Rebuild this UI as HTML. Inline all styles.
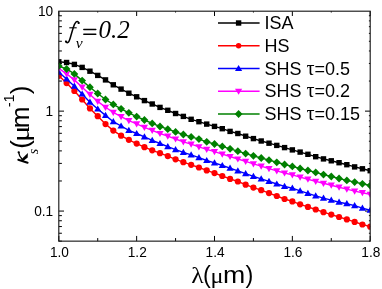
<!DOCTYPE html>
<html><head><meta charset="utf-8"><style>
html,body{margin:0;padding:0;background:#fff;}
svg{display:block;font-family:"Liberation Sans",sans-serif;will-change:transform;}
</style></head><body>
<svg width="382" height="289" viewBox="0 0 382 289">
<defs><clipPath id="clip"><rect x="58.8" y="11.2" width="311.4" height="229.95000000000002"/></clipPath></defs>
<rect width="382" height="289" fill="#fff"/>
<line x1="218" y1="23.00" x2="259.6" y2="23.00" stroke="#000000" stroke-width="1.3"/>
<rect x="235.90" y="20.30" width="5.4" height="5.4" fill="#000000"/>
<text x="264.4" y="29.20" font-size="18">ISA</text>
<line x1="218" y1="45.75" x2="259.6" y2="45.75" stroke="#ff0000" stroke-width="1.3"/>
<circle cx="238.60" cy="45.75" r="2.7" fill="#ff0000"/>
<text x="264.4" y="51.95" font-size="18">HS</text>
<line x1="218" y1="68.50" x2="259.6" y2="68.50" stroke="#0000ff" stroke-width="1.3"/>
<path d="M238.60,64.90 L242.20,71.10 L235.00,71.10Z" fill="#0000ff"/>
<text x="264.4" y="74.70" font-size="18">SHS <tspan font-family="Liberation Serif" font-size="20">τ</tspan>=0.5</text>
<line x1="218" y1="91.25" x2="259.6" y2="91.25" stroke="#ff00ff" stroke-width="1.3"/>
<path d="M238.60,94.85 L242.20,88.65 L235.00,88.65Z" fill="#ff00ff"/>
<text x="264.4" y="97.45" font-size="18">SHS <tspan font-family="Liberation Serif" font-size="20">τ</tspan>=0.2</text>
<line x1="218" y1="114.00" x2="259.6" y2="114.00" stroke="#008000" stroke-width="1.3"/>
<path d="M238.60,110.10 L242.50,114.00 L238.60,117.90 L234.70,114.00Z" fill="#008000"/>
<text x="264.4" y="120.20" font-size="18">SHS <tspan font-family="Liberation Serif" font-size="20">τ</tspan>=0.15</text>
<line x1="58.80" y1="241.15" x2="58.80" y2="235.95000000000002" stroke="#000" stroke-width="1"/>
<line x1="58.80" y1="11.2" x2="58.80" y2="16.0" stroke="#000" stroke-width="1"/>
<text transform="translate(59.40,257.4) scale(1,1.1)" font-size="13.7" text-anchor="middle">1.0</text>
<line x1="97.73" y1="241.15" x2="97.73" y2="238.05" stroke="#000" stroke-width="1"/>
<line x1="97.73" y1="11.2" x2="97.73" y2="12.5" stroke="#000" stroke-width="1"/>
<line x1="136.65" y1="241.15" x2="136.65" y2="235.95000000000002" stroke="#000" stroke-width="1"/>
<line x1="136.65" y1="11.2" x2="136.65" y2="16.0" stroke="#000" stroke-width="1"/>
<text transform="translate(137.25,257.4) scale(1,1.1)" font-size="13.7" text-anchor="middle">1.2</text>
<line x1="175.57" y1="241.15" x2="175.57" y2="238.05" stroke="#000" stroke-width="1"/>
<line x1="175.57" y1="11.2" x2="175.57" y2="12.5" stroke="#000" stroke-width="1"/>
<line x1="214.50" y1="241.15" x2="214.50" y2="235.95000000000002" stroke="#000" stroke-width="1"/>
<line x1="214.50" y1="11.2" x2="214.50" y2="16.0" stroke="#000" stroke-width="1"/>
<text transform="translate(215.10,257.4) scale(1,1.1)" font-size="13.7" text-anchor="middle">1.4</text>
<line x1="253.42" y1="241.15" x2="253.42" y2="238.05" stroke="#000" stroke-width="1"/>
<line x1="253.42" y1="11.2" x2="253.42" y2="12.5" stroke="#000" stroke-width="1"/>
<line x1="292.35" y1="241.15" x2="292.35" y2="235.95000000000002" stroke="#000" stroke-width="1"/>
<line x1="292.35" y1="11.2" x2="292.35" y2="16.0" stroke="#000" stroke-width="1"/>
<text transform="translate(292.95,257.4) scale(1,1.1)" font-size="13.7" text-anchor="middle">1.6</text>
<line x1="331.28" y1="241.15" x2="331.28" y2="238.05" stroke="#000" stroke-width="1"/>
<line x1="331.28" y1="11.2" x2="331.28" y2="12.5" stroke="#000" stroke-width="1"/>
<line x1="370.20" y1="241.15" x2="370.20" y2="235.95000000000002" stroke="#000" stroke-width="1"/>
<line x1="370.20" y1="11.2" x2="370.20" y2="16.0" stroke="#000" stroke-width="1"/>
<text transform="translate(370.80,257.4) scale(1,1.1)" font-size="13.7" text-anchor="middle">1.8</text>
<line x1="58.8" y1="241.15" x2="61.9" y2="241.15" stroke="#000" stroke-width="1"/>
<line x1="370.2" y1="241.15" x2="368.9" y2="241.15" stroke="#000" stroke-width="1"/>
<line x1="58.8" y1="233.24" x2="61.9" y2="233.24" stroke="#000" stroke-width="1"/>
<line x1="370.2" y1="233.24" x2="368.9" y2="233.24" stroke="#000" stroke-width="1"/>
<line x1="58.8" y1="226.55" x2="61.9" y2="226.55" stroke="#000" stroke-width="1"/>
<line x1="370.2" y1="226.55" x2="368.9" y2="226.55" stroke="#000" stroke-width="1"/>
<line x1="58.8" y1="220.75" x2="61.9" y2="220.75" stroke="#000" stroke-width="1"/>
<line x1="370.2" y1="220.75" x2="368.9" y2="220.75" stroke="#000" stroke-width="1"/>
<line x1="58.8" y1="215.64" x2="61.9" y2="215.64" stroke="#000" stroke-width="1"/>
<line x1="370.2" y1="215.64" x2="368.9" y2="215.64" stroke="#000" stroke-width="1"/>
<line x1="58.8" y1="211.07" x2="64.0" y2="211.07" stroke="#000" stroke-width="1"/>
<line x1="370.2" y1="211.07" x2="365.0" y2="211.07" stroke="#000" stroke-width="1"/>
<line x1="58.8" y1="180.98" x2="61.9" y2="180.98" stroke="#000" stroke-width="1"/>
<line x1="370.2" y1="180.98" x2="368.9" y2="180.98" stroke="#000" stroke-width="1"/>
<line x1="58.8" y1="163.39" x2="61.9" y2="163.39" stroke="#000" stroke-width="1"/>
<line x1="370.2" y1="163.39" x2="368.9" y2="163.39" stroke="#000" stroke-width="1"/>
<line x1="58.8" y1="150.90" x2="61.9" y2="150.90" stroke="#000" stroke-width="1"/>
<line x1="370.2" y1="150.90" x2="368.9" y2="150.90" stroke="#000" stroke-width="1"/>
<line x1="58.8" y1="141.22" x2="61.9" y2="141.22" stroke="#000" stroke-width="1"/>
<line x1="370.2" y1="141.22" x2="368.9" y2="141.22" stroke="#000" stroke-width="1"/>
<line x1="58.8" y1="133.30" x2="61.9" y2="133.30" stroke="#000" stroke-width="1"/>
<line x1="370.2" y1="133.30" x2="368.9" y2="133.30" stroke="#000" stroke-width="1"/>
<line x1="58.8" y1="126.61" x2="61.9" y2="126.61" stroke="#000" stroke-width="1"/>
<line x1="370.2" y1="126.61" x2="368.9" y2="126.61" stroke="#000" stroke-width="1"/>
<line x1="58.8" y1="120.82" x2="61.9" y2="120.82" stroke="#000" stroke-width="1"/>
<line x1="370.2" y1="120.82" x2="368.9" y2="120.82" stroke="#000" stroke-width="1"/>
<line x1="58.8" y1="115.71" x2="61.9" y2="115.71" stroke="#000" stroke-width="1"/>
<line x1="370.2" y1="115.71" x2="368.9" y2="115.71" stroke="#000" stroke-width="1"/>
<line x1="58.8" y1="111.13" x2="64.0" y2="111.13" stroke="#000" stroke-width="1"/>
<line x1="370.2" y1="111.13" x2="365.0" y2="111.13" stroke="#000" stroke-width="1"/>
<line x1="58.8" y1="81.05" x2="61.9" y2="81.05" stroke="#000" stroke-width="1"/>
<line x1="370.2" y1="81.05" x2="368.9" y2="81.05" stroke="#000" stroke-width="1"/>
<line x1="58.8" y1="63.45" x2="61.9" y2="63.45" stroke="#000" stroke-width="1"/>
<line x1="370.2" y1="63.45" x2="368.9" y2="63.45" stroke="#000" stroke-width="1"/>
<line x1="58.8" y1="50.97" x2="61.9" y2="50.97" stroke="#000" stroke-width="1"/>
<line x1="370.2" y1="50.97" x2="368.9" y2="50.97" stroke="#000" stroke-width="1"/>
<line x1="58.8" y1="41.28" x2="61.9" y2="41.28" stroke="#000" stroke-width="1"/>
<line x1="370.2" y1="41.28" x2="368.9" y2="41.28" stroke="#000" stroke-width="1"/>
<line x1="58.8" y1="33.37" x2="61.9" y2="33.37" stroke="#000" stroke-width="1"/>
<line x1="370.2" y1="33.37" x2="368.9" y2="33.37" stroke="#000" stroke-width="1"/>
<line x1="58.8" y1="26.68" x2="61.9" y2="26.68" stroke="#000" stroke-width="1"/>
<line x1="370.2" y1="26.68" x2="368.9" y2="26.68" stroke="#000" stroke-width="1"/>
<line x1="58.8" y1="20.88" x2="61.9" y2="20.88" stroke="#000" stroke-width="1"/>
<line x1="370.2" y1="20.88" x2="368.9" y2="20.88" stroke="#000" stroke-width="1"/>
<line x1="58.8" y1="15.77" x2="61.9" y2="15.77" stroke="#000" stroke-width="1"/>
<line x1="370.2" y1="15.77" x2="368.9" y2="15.77" stroke="#000" stroke-width="1"/>
<text transform="translate(53.2,16.00) scale(1,1.1)" font-size="13.7" text-anchor="end">10</text>
<text transform="translate(53.2,115.93) scale(1,1.1)" font-size="13.7" text-anchor="end">1</text>
<text transform="translate(53.2,215.87) scale(1,1.1)" font-size="13.7" text-anchor="end">0.1</text>
<g clip-path="url(#clip)">
<polyline points="58.80,61.80 66.59,62.50 74.37,64.40 82.16,67.40 89.94,71.20 97.73,75.40 105.51,79.90 113.30,84.80 121.08,89.10 128.86,93.20 136.65,96.80 144.43,100.60 152.22,104.00 160.00,107.40 167.79,110.30 175.57,113.50 183.36,116.40 191.15,119.30 198.93,121.70 206.71,124.10 214.50,126.40 222.28,128.70 230.07,131.40 237.85,133.50 245.64,136.20 253.42,138.60 261.21,141.00 269.00,143.20 276.78,145.40 284.56,147.60 292.35,149.90 300.13,152.10 307.92,154.30 315.71,156.70 323.49,158.90 331.28,160.80 339.06,162.70 346.84,164.70 354.63,166.90 362.41,168.80 370.20,170.70" fill="none" stroke="#000000" stroke-width="1.4"/>
<rect x="56.10" y="59.10" width="5.4" height="5.4" fill="#000000"/>
<rect x="63.89" y="59.80" width="5.4" height="5.4" fill="#000000"/>
<rect x="71.67" y="61.70" width="5.4" height="5.4" fill="#000000"/>
<rect x="79.46" y="64.70" width="5.4" height="5.4" fill="#000000"/>
<rect x="87.24" y="68.50" width="5.4" height="5.4" fill="#000000"/>
<rect x="95.03" y="72.70" width="5.4" height="5.4" fill="#000000"/>
<rect x="102.81" y="77.20" width="5.4" height="5.4" fill="#000000"/>
<rect x="110.60" y="82.10" width="5.4" height="5.4" fill="#000000"/>
<rect x="118.38" y="86.40" width="5.4" height="5.4" fill="#000000"/>
<rect x="126.16" y="90.50" width="5.4" height="5.4" fill="#000000"/>
<rect x="133.95" y="94.10" width="5.4" height="5.4" fill="#000000"/>
<rect x="141.73" y="97.90" width="5.4" height="5.4" fill="#000000"/>
<rect x="149.52" y="101.30" width="5.4" height="5.4" fill="#000000"/>
<rect x="157.31" y="104.70" width="5.4" height="5.4" fill="#000000"/>
<rect x="165.09" y="107.60" width="5.4" height="5.4" fill="#000000"/>
<rect x="172.88" y="110.80" width="5.4" height="5.4" fill="#000000"/>
<rect x="180.66" y="113.70" width="5.4" height="5.4" fill="#000000"/>
<rect x="188.45" y="116.60" width="5.4" height="5.4" fill="#000000"/>
<rect x="196.23" y="119.00" width="5.4" height="5.4" fill="#000000"/>
<rect x="204.01" y="121.40" width="5.4" height="5.4" fill="#000000"/>
<rect x="211.80" y="123.70" width="5.4" height="5.4" fill="#000000"/>
<rect x="219.58" y="126.00" width="5.4" height="5.4" fill="#000000"/>
<rect x="227.37" y="128.70" width="5.4" height="5.4" fill="#000000"/>
<rect x="235.15" y="130.80" width="5.4" height="5.4" fill="#000000"/>
<rect x="242.94" y="133.50" width="5.4" height="5.4" fill="#000000"/>
<rect x="250.72" y="135.90" width="5.4" height="5.4" fill="#000000"/>
<rect x="258.51" y="138.30" width="5.4" height="5.4" fill="#000000"/>
<rect x="266.30" y="140.50" width="5.4" height="5.4" fill="#000000"/>
<rect x="274.08" y="142.70" width="5.4" height="5.4" fill="#000000"/>
<rect x="281.87" y="144.90" width="5.4" height="5.4" fill="#000000"/>
<rect x="289.65" y="147.20" width="5.4" height="5.4" fill="#000000"/>
<rect x="297.44" y="149.40" width="5.4" height="5.4" fill="#000000"/>
<rect x="305.22" y="151.60" width="5.4" height="5.4" fill="#000000"/>
<rect x="313.01" y="154.00" width="5.4" height="5.4" fill="#000000"/>
<rect x="320.79" y="156.20" width="5.4" height="5.4" fill="#000000"/>
<rect x="328.58" y="158.10" width="5.4" height="5.4" fill="#000000"/>
<rect x="336.36" y="160.00" width="5.4" height="5.4" fill="#000000"/>
<rect x="344.14" y="162.00" width="5.4" height="5.4" fill="#000000"/>
<rect x="351.93" y="164.20" width="5.4" height="5.4" fill="#000000"/>
<rect x="359.71" y="166.10" width="5.4" height="5.4" fill="#000000"/>
<rect x="367.50" y="168.00" width="5.4" height="5.4" fill="#000000"/>
<polyline points="58.80,75.80 66.59,83.10 74.37,91.00 82.16,99.50 89.94,108.40 97.73,116.20 105.51,124.10 113.30,130.60 121.08,135.70 128.86,139.80 136.65,143.60 144.43,147.20 152.22,150.30 160.00,153.20 167.79,156.10 175.57,159.30 183.36,162.20 191.15,164.80 198.93,167.50 206.71,170.40 214.50,173.10 222.28,176.00 230.07,178.90 237.85,181.50 245.64,184.70 253.42,187.60 261.21,190.20 269.00,193.10 276.78,196.00 284.56,199.00 292.35,201.40 300.13,204.30 307.92,206.90 315.71,209.50 323.49,212.20 331.28,214.60 339.06,217.00 346.84,219.40 354.63,221.90 362.41,224.50 370.20,226.70" fill="none" stroke="#ff0000" stroke-width="1.4"/>
<circle cx="58.80" cy="75.80" r="3.1" fill="#ff0000"/>
<circle cx="66.59" cy="83.10" r="3.1" fill="#ff0000"/>
<circle cx="74.37" cy="91.00" r="3.1" fill="#ff0000"/>
<circle cx="82.16" cy="99.50" r="3.1" fill="#ff0000"/>
<circle cx="89.94" cy="108.40" r="3.1" fill="#ff0000"/>
<circle cx="97.73" cy="116.20" r="3.1" fill="#ff0000"/>
<circle cx="105.51" cy="124.10" r="3.1" fill="#ff0000"/>
<circle cx="113.30" cy="130.60" r="3.1" fill="#ff0000"/>
<circle cx="121.08" cy="135.70" r="3.1" fill="#ff0000"/>
<circle cx="128.86" cy="139.80" r="3.1" fill="#ff0000"/>
<circle cx="136.65" cy="143.60" r="3.1" fill="#ff0000"/>
<circle cx="144.43" cy="147.20" r="3.1" fill="#ff0000"/>
<circle cx="152.22" cy="150.30" r="3.1" fill="#ff0000"/>
<circle cx="160.00" cy="153.20" r="3.1" fill="#ff0000"/>
<circle cx="167.79" cy="156.10" r="3.1" fill="#ff0000"/>
<circle cx="175.57" cy="159.30" r="3.1" fill="#ff0000"/>
<circle cx="183.36" cy="162.20" r="3.1" fill="#ff0000"/>
<circle cx="191.15" cy="164.80" r="3.1" fill="#ff0000"/>
<circle cx="198.93" cy="167.50" r="3.1" fill="#ff0000"/>
<circle cx="206.71" cy="170.40" r="3.1" fill="#ff0000"/>
<circle cx="214.50" cy="173.10" r="3.1" fill="#ff0000"/>
<circle cx="222.28" cy="176.00" r="3.1" fill="#ff0000"/>
<circle cx="230.07" cy="178.90" r="3.1" fill="#ff0000"/>
<circle cx="237.85" cy="181.50" r="3.1" fill="#ff0000"/>
<circle cx="245.64" cy="184.70" r="3.1" fill="#ff0000"/>
<circle cx="253.42" cy="187.60" r="3.1" fill="#ff0000"/>
<circle cx="261.21" cy="190.20" r="3.1" fill="#ff0000"/>
<circle cx="269.00" cy="193.10" r="3.1" fill="#ff0000"/>
<circle cx="276.78" cy="196.00" r="3.1" fill="#ff0000"/>
<circle cx="284.56" cy="199.00" r="3.1" fill="#ff0000"/>
<circle cx="292.35" cy="201.40" r="3.1" fill="#ff0000"/>
<circle cx="300.13" cy="204.30" r="3.1" fill="#ff0000"/>
<circle cx="307.92" cy="206.90" r="3.1" fill="#ff0000"/>
<circle cx="315.71" cy="209.50" r="3.1" fill="#ff0000"/>
<circle cx="323.49" cy="212.20" r="3.1" fill="#ff0000"/>
<circle cx="331.28" cy="214.60" r="3.1" fill="#ff0000"/>
<circle cx="339.06" cy="217.00" r="3.1" fill="#ff0000"/>
<circle cx="346.84" cy="219.40" r="3.1" fill="#ff0000"/>
<circle cx="354.63" cy="221.90" r="3.1" fill="#ff0000"/>
<circle cx="362.41" cy="224.50" r="3.1" fill="#ff0000"/>
<circle cx="370.20" cy="226.70" r="3.1" fill="#ff0000"/>
<polyline points="58.80,72.20 66.59,78.90 74.37,86.20 82.16,94.00 89.94,102.20 97.73,109.00 105.51,115.40 113.30,121.70 121.08,126.00 128.86,130.40 136.65,133.50 144.43,136.90 152.22,140.40 160.00,143.50 167.79,146.70 175.57,149.60 183.36,152.40 191.15,154.90 198.93,157.60 206.71,160.50 214.50,162.80 222.28,165.50 230.07,168.20 237.85,170.90 245.64,173.60 253.42,176.30 261.21,178.90 269.00,181.40 276.78,184.00 284.56,186.40 292.35,188.20 300.13,190.80 307.92,193.40 315.71,195.80 323.49,198.10 331.28,200.10 339.06,202.20 346.84,203.70 354.63,205.60 362.41,208.10 370.20,210.20" fill="none" stroke="#0000ff" stroke-width="1.4"/>
<path d="M58.80,68.60 L62.40,74.80 L55.20,74.80Z" fill="#0000ff"/>
<path d="M66.59,75.30 L70.19,81.50 L62.99,81.50Z" fill="#0000ff"/>
<path d="M74.37,82.60 L77.97,88.80 L70.77,88.80Z" fill="#0000ff"/>
<path d="M82.16,90.40 L85.76,96.60 L78.56,96.60Z" fill="#0000ff"/>
<path d="M89.94,98.60 L93.54,104.80 L86.34,104.80Z" fill="#0000ff"/>
<path d="M97.73,105.40 L101.33,111.60 L94.13,111.60Z" fill="#0000ff"/>
<path d="M105.51,111.80 L109.11,118.00 L101.91,118.00Z" fill="#0000ff"/>
<path d="M113.30,118.10 L116.90,124.30 L109.70,124.30Z" fill="#0000ff"/>
<path d="M121.08,122.40 L124.68,128.60 L117.48,128.60Z" fill="#0000ff"/>
<path d="M128.86,126.80 L132.46,133.00 L125.26,133.00Z" fill="#0000ff"/>
<path d="M136.65,129.90 L140.25,136.10 L133.05,136.10Z" fill="#0000ff"/>
<path d="M144.43,133.30 L148.03,139.50 L140.83,139.50Z" fill="#0000ff"/>
<path d="M152.22,136.80 L155.82,143.00 L148.62,143.00Z" fill="#0000ff"/>
<path d="M160.00,139.90 L163.60,146.10 L156.41,146.10Z" fill="#0000ff"/>
<path d="M167.79,143.10 L171.39,149.30 L164.19,149.30Z" fill="#0000ff"/>
<path d="M175.57,146.00 L179.17,152.20 L171.97,152.20Z" fill="#0000ff"/>
<path d="M183.36,148.80 L186.96,155.00 L179.76,155.00Z" fill="#0000ff"/>
<path d="M191.15,151.30 L194.75,157.50 L187.55,157.50Z" fill="#0000ff"/>
<path d="M198.93,154.00 L202.53,160.20 L195.33,160.20Z" fill="#0000ff"/>
<path d="M206.71,156.90 L210.31,163.10 L203.11,163.10Z" fill="#0000ff"/>
<path d="M214.50,159.20 L218.10,165.40 L210.90,165.40Z" fill="#0000ff"/>
<path d="M222.28,161.90 L225.88,168.10 L218.68,168.10Z" fill="#0000ff"/>
<path d="M230.07,164.60 L233.67,170.80 L226.47,170.80Z" fill="#0000ff"/>
<path d="M237.85,167.30 L241.45,173.50 L234.25,173.50Z" fill="#0000ff"/>
<path d="M245.64,170.00 L249.24,176.20 L242.04,176.20Z" fill="#0000ff"/>
<path d="M253.42,172.70 L257.02,178.90 L249.82,178.90Z" fill="#0000ff"/>
<path d="M261.21,175.30 L264.81,181.50 L257.61,181.50Z" fill="#0000ff"/>
<path d="M269.00,177.80 L272.60,184.00 L265.39,184.00Z" fill="#0000ff"/>
<path d="M276.78,180.40 L280.38,186.60 L273.18,186.60Z" fill="#0000ff"/>
<path d="M284.56,182.80 L288.17,189.00 L280.96,189.00Z" fill="#0000ff"/>
<path d="M292.35,184.60 L295.95,190.80 L288.75,190.80Z" fill="#0000ff"/>
<path d="M300.13,187.20 L303.74,193.40 L296.53,193.40Z" fill="#0000ff"/>
<path d="M307.92,189.80 L311.52,196.00 L304.32,196.00Z" fill="#0000ff"/>
<path d="M315.71,192.20 L319.31,198.40 L312.11,198.40Z" fill="#0000ff"/>
<path d="M323.49,194.50 L327.09,200.70 L319.89,200.70Z" fill="#0000ff"/>
<path d="M331.28,196.50 L334.88,202.70 L327.68,202.70Z" fill="#0000ff"/>
<path d="M339.06,198.60 L342.66,204.80 L335.46,204.80Z" fill="#0000ff"/>
<path d="M346.84,200.10 L350.44,206.30 L343.24,206.30Z" fill="#0000ff"/>
<path d="M354.63,202.00 L358.23,208.20 L351.03,208.20Z" fill="#0000ff"/>
<path d="M362.41,204.50 L366.01,210.70 L358.81,210.70Z" fill="#0000ff"/>
<path d="M370.20,206.60 L373.80,212.80 L366.60,212.80Z" fill="#0000ff"/>
<polyline points="58.80,68.40 66.59,73.90 74.37,79.90 82.16,87.20 89.94,94.40 97.73,101.40 105.51,107.30 113.30,112.30 121.08,116.60 128.86,120.70 136.65,123.90 144.43,127.30 152.22,130.40 160.00,133.50 167.79,136.20 175.57,139.00 183.36,141.80 191.15,144.20 198.93,146.80 206.71,149.30 214.50,151.70 222.28,154.10 230.07,156.50 237.85,159.00 245.64,161.40 253.42,163.80 261.21,166.20 269.00,168.60 276.78,170.80 284.56,173.00 292.35,174.90 300.13,177.10 307.92,179.20 315.71,181.40 323.49,183.30 331.28,185.20 339.06,187.20 346.84,189.10 354.63,191.10 362.41,192.70 370.20,194.40" fill="none" stroke="#ff00ff" stroke-width="1.4"/>
<path d="M58.80,72.00 L62.40,65.80 L55.20,65.80Z" fill="#ff00ff"/>
<path d="M66.59,77.50 L70.19,71.30 L62.99,71.30Z" fill="#ff00ff"/>
<path d="M74.37,83.50 L77.97,77.30 L70.77,77.30Z" fill="#ff00ff"/>
<path d="M82.16,90.80 L85.76,84.60 L78.56,84.60Z" fill="#ff00ff"/>
<path d="M89.94,98.00 L93.54,91.80 L86.34,91.80Z" fill="#ff00ff"/>
<path d="M97.73,105.00 L101.33,98.80 L94.13,98.80Z" fill="#ff00ff"/>
<path d="M105.51,110.90 L109.11,104.70 L101.91,104.70Z" fill="#ff00ff"/>
<path d="M113.30,115.90 L116.90,109.70 L109.70,109.70Z" fill="#ff00ff"/>
<path d="M121.08,120.20 L124.68,114.00 L117.48,114.00Z" fill="#ff00ff"/>
<path d="M128.86,124.30 L132.46,118.10 L125.26,118.10Z" fill="#ff00ff"/>
<path d="M136.65,127.50 L140.25,121.30 L133.05,121.30Z" fill="#ff00ff"/>
<path d="M144.43,130.90 L148.03,124.70 L140.83,124.70Z" fill="#ff00ff"/>
<path d="M152.22,134.00 L155.82,127.80 L148.62,127.80Z" fill="#ff00ff"/>
<path d="M160.00,137.10 L163.60,130.90 L156.41,130.90Z" fill="#ff00ff"/>
<path d="M167.79,139.80 L171.39,133.60 L164.19,133.60Z" fill="#ff00ff"/>
<path d="M175.57,142.60 L179.17,136.40 L171.97,136.40Z" fill="#ff00ff"/>
<path d="M183.36,145.40 L186.96,139.20 L179.76,139.20Z" fill="#ff00ff"/>
<path d="M191.15,147.80 L194.75,141.60 L187.55,141.60Z" fill="#ff00ff"/>
<path d="M198.93,150.40 L202.53,144.20 L195.33,144.20Z" fill="#ff00ff"/>
<path d="M206.71,152.90 L210.31,146.70 L203.11,146.70Z" fill="#ff00ff"/>
<path d="M214.50,155.30 L218.10,149.10 L210.90,149.10Z" fill="#ff00ff"/>
<path d="M222.28,157.70 L225.88,151.50 L218.68,151.50Z" fill="#ff00ff"/>
<path d="M230.07,160.10 L233.67,153.90 L226.47,153.90Z" fill="#ff00ff"/>
<path d="M237.85,162.60 L241.45,156.40 L234.25,156.40Z" fill="#ff00ff"/>
<path d="M245.64,165.00 L249.24,158.80 L242.04,158.80Z" fill="#ff00ff"/>
<path d="M253.42,167.40 L257.02,161.20 L249.82,161.20Z" fill="#ff00ff"/>
<path d="M261.21,169.80 L264.81,163.60 L257.61,163.60Z" fill="#ff00ff"/>
<path d="M269.00,172.20 L272.60,166.00 L265.39,166.00Z" fill="#ff00ff"/>
<path d="M276.78,174.40 L280.38,168.20 L273.18,168.20Z" fill="#ff00ff"/>
<path d="M284.56,176.60 L288.17,170.40 L280.96,170.40Z" fill="#ff00ff"/>
<path d="M292.35,178.50 L295.95,172.30 L288.75,172.30Z" fill="#ff00ff"/>
<path d="M300.13,180.70 L303.74,174.50 L296.53,174.50Z" fill="#ff00ff"/>
<path d="M307.92,182.80 L311.52,176.60 L304.32,176.60Z" fill="#ff00ff"/>
<path d="M315.71,185.00 L319.31,178.80 L312.11,178.80Z" fill="#ff00ff"/>
<path d="M323.49,186.90 L327.09,180.70 L319.89,180.70Z" fill="#ff00ff"/>
<path d="M331.28,188.80 L334.88,182.60 L327.68,182.60Z" fill="#ff00ff"/>
<path d="M339.06,190.80 L342.66,184.60 L335.46,184.60Z" fill="#ff00ff"/>
<path d="M346.84,192.70 L350.44,186.50 L343.24,186.50Z" fill="#ff00ff"/>
<path d="M354.63,194.70 L358.23,188.50 L351.03,188.50Z" fill="#ff00ff"/>
<path d="M362.41,196.30 L366.01,190.10 L358.81,190.10Z" fill="#ff00ff"/>
<path d="M370.20,198.00 L373.80,191.80 L366.60,191.80Z" fill="#ff00ff"/>
<polyline points="58.80,66.10 66.59,69.00 74.37,73.90 82.16,80.60 89.94,87.20 97.73,93.50 105.51,99.50 113.30,104.40 121.08,108.80 128.86,112.80 136.65,116.60 144.43,120.00 152.22,123.40 160.00,126.50 167.79,129.20 175.57,131.90 183.36,134.50 191.15,136.90 198.93,139.10 206.71,141.80 214.50,144.00 222.28,146.40 230.07,148.80 237.85,151.20 245.64,153.60 253.42,155.80 261.21,158.00 269.00,160.20 276.78,162.30 284.56,164.50 292.35,166.40 300.13,168.50 307.92,170.50 315.71,172.40 323.49,174.60 331.28,176.50 339.06,178.50 346.84,180.40 354.63,182.10 362.41,183.80 370.20,185.50" fill="none" stroke="#008000" stroke-width="1.4"/>
<path d="M58.80,62.20 L62.70,66.10 L58.80,70.00 L54.90,66.10Z" fill="#008000"/>
<path d="M66.59,65.10 L70.49,69.00 L66.59,72.90 L62.69,69.00Z" fill="#008000"/>
<path d="M74.37,70.00 L78.27,73.90 L74.37,77.80 L70.47,73.90Z" fill="#008000"/>
<path d="M82.16,76.70 L86.06,80.60 L82.16,84.50 L78.26,80.60Z" fill="#008000"/>
<path d="M89.94,83.30 L93.84,87.20 L89.94,91.10 L86.04,87.20Z" fill="#008000"/>
<path d="M97.73,89.60 L101.63,93.50 L97.73,97.40 L93.83,93.50Z" fill="#008000"/>
<path d="M105.51,95.60 L109.41,99.50 L105.51,103.40 L101.61,99.50Z" fill="#008000"/>
<path d="M113.30,100.50 L117.20,104.40 L113.30,108.30 L109.40,104.40Z" fill="#008000"/>
<path d="M121.08,104.90 L124.98,108.80 L121.08,112.70 L117.18,108.80Z" fill="#008000"/>
<path d="M128.86,108.90 L132.76,112.80 L128.86,116.70 L124.96,112.80Z" fill="#008000"/>
<path d="M136.65,112.70 L140.55,116.60 L136.65,120.50 L132.75,116.60Z" fill="#008000"/>
<path d="M144.43,116.10 L148.33,120.00 L144.43,123.90 L140.53,120.00Z" fill="#008000"/>
<path d="M152.22,119.50 L156.12,123.40 L152.22,127.30 L148.32,123.40Z" fill="#008000"/>
<path d="M160.00,122.60 L163.91,126.50 L160.00,130.40 L156.10,126.50Z" fill="#008000"/>
<path d="M167.79,125.30 L171.69,129.20 L167.79,133.10 L163.89,129.20Z" fill="#008000"/>
<path d="M175.57,128.00 L179.47,131.90 L175.57,135.80 L171.67,131.90Z" fill="#008000"/>
<path d="M183.36,130.60 L187.26,134.50 L183.36,138.40 L179.46,134.50Z" fill="#008000"/>
<path d="M191.15,133.00 L195.05,136.90 L191.15,140.80 L187.25,136.90Z" fill="#008000"/>
<path d="M198.93,135.20 L202.83,139.10 L198.93,143.00 L195.03,139.10Z" fill="#008000"/>
<path d="M206.71,137.90 L210.61,141.80 L206.71,145.70 L202.81,141.80Z" fill="#008000"/>
<path d="M214.50,140.10 L218.40,144.00 L214.50,147.90 L210.60,144.00Z" fill="#008000"/>
<path d="M222.28,142.50 L226.18,146.40 L222.28,150.30 L218.38,146.40Z" fill="#008000"/>
<path d="M230.07,144.90 L233.97,148.80 L230.07,152.70 L226.17,148.80Z" fill="#008000"/>
<path d="M237.85,147.30 L241.75,151.20 L237.85,155.10 L233.95,151.20Z" fill="#008000"/>
<path d="M245.64,149.70 L249.54,153.60 L245.64,157.50 L241.74,153.60Z" fill="#008000"/>
<path d="M253.42,151.90 L257.32,155.80 L253.42,159.70 L249.52,155.80Z" fill="#008000"/>
<path d="M261.21,154.10 L265.11,158.00 L261.21,161.90 L257.31,158.00Z" fill="#008000"/>
<path d="M269.00,156.30 L272.89,160.20 L269.00,164.10 L265.10,160.20Z" fill="#008000"/>
<path d="M276.78,158.40 L280.68,162.30 L276.78,166.20 L272.88,162.30Z" fill="#008000"/>
<path d="M284.56,160.60 L288.46,164.50 L284.56,168.40 L280.67,164.50Z" fill="#008000"/>
<path d="M292.35,162.50 L296.25,166.40 L292.35,170.30 L288.45,166.40Z" fill="#008000"/>
<path d="M300.13,164.60 L304.03,168.50 L300.13,172.40 L296.24,168.50Z" fill="#008000"/>
<path d="M307.92,166.60 L311.82,170.50 L307.92,174.40 L304.02,170.50Z" fill="#008000"/>
<path d="M315.71,168.50 L319.61,172.40 L315.71,176.30 L311.81,172.40Z" fill="#008000"/>
<path d="M323.49,170.70 L327.39,174.60 L323.49,178.50 L319.59,174.60Z" fill="#008000"/>
<path d="M331.28,172.60 L335.18,176.50 L331.28,180.40 L327.38,176.50Z" fill="#008000"/>
<path d="M339.06,174.60 L342.96,178.50 L339.06,182.40 L335.16,178.50Z" fill="#008000"/>
<path d="M346.84,176.50 L350.74,180.40 L346.84,184.30 L342.94,180.40Z" fill="#008000"/>
<path d="M354.63,178.20 L358.53,182.10 L354.63,186.00 L350.73,182.10Z" fill="#008000"/>
<path d="M362.41,179.90 L366.31,183.80 L362.41,187.70 L358.51,183.80Z" fill="#008000"/>
<path d="M370.20,181.60 L374.10,185.50 L370.20,189.40 L366.30,185.50Z" fill="#008000"/>
</g>
<rect x="58.8" y="11.2" width="311.4" height="229.95000000000002" fill="none" stroke="#1c1c1c" stroke-width="1.15"/>
<g font-family="Liberation Serif" font-style="italic" font-size="25"><path d="M78.7,23.2 C78.9,21.6 77.2,20.9 76,22 C74.6,23.3 73.9,25.5 73.2,27.8 L70.8,36 C70,39 69.3,41.3 68.3,42.2 C67.3,43 66,42.6 65.8,41.4" fill="none" stroke="#000" stroke-width="1.5" stroke-linecap="round"/><circle cx="78.6" cy="23" r="1.1"/><circle cx="66" cy="41.5" r="1.1"/><path d="M69.3,27.8 L76.7,27.8" stroke="#000" stroke-width="1.1"/><text x="75.8" y="48" font-size="15.5">v</text><path d="M83.8,29.4H95.8M83.8,34.3H95.8" stroke="#000" stroke-width="1.45" stroke-linecap="round"/><text transform="translate(98.6,38.4) scale(1,1.04)">0.2</text></g>
<g font-size="22" text-anchor="middle"><text transform="translate(197.6,283) scale(1.12,1)" font-family="Liberation Serif" font-size="23">λ</text><text x="206.8" y="282.6" font-size="23.5">(</text><text transform="translate(217,282.8) scale(1.1,1)" font-family="Liberation Serif">μ</text><text transform="translate(234.1,282.6) scale(1.16,1)" font-size="23">m</text><text x="249.4" y="282.5" font-size="23.5">)</text></g>
<g stroke="#000" stroke-linecap="round" fill="none"><path d="M18.3,159.8 L27.6,162.7" stroke-width="2"/><path d="M18.7,152.4 C19,155 20,157 21.8,158.8" stroke-width="1.3"/></g><circle cx="18.7" cy="152.3" r="1.15"/><path d="M21.2,159.4 L27.9,153 L27.7,157.4 L23.2,160.9 Z"/>
<g transform="translate(29,0) rotate(-90)" font-size="26"><text x="-154.2" y="9.3" font-family="Liberation Serif" font-style="italic" font-size="14">s</text><text x="-148.7" y="0.3">(</text><text transform="translate(-142,0) scale(1.18,1)" font-family="Liberation Serif">μ</text><text x="-128.2" y="0">m</text><text x="-107" y="-14.6" font-size="14">-1</text><text x="-94.2" y="0.3">)</text></g>
</svg>
</body></html>
